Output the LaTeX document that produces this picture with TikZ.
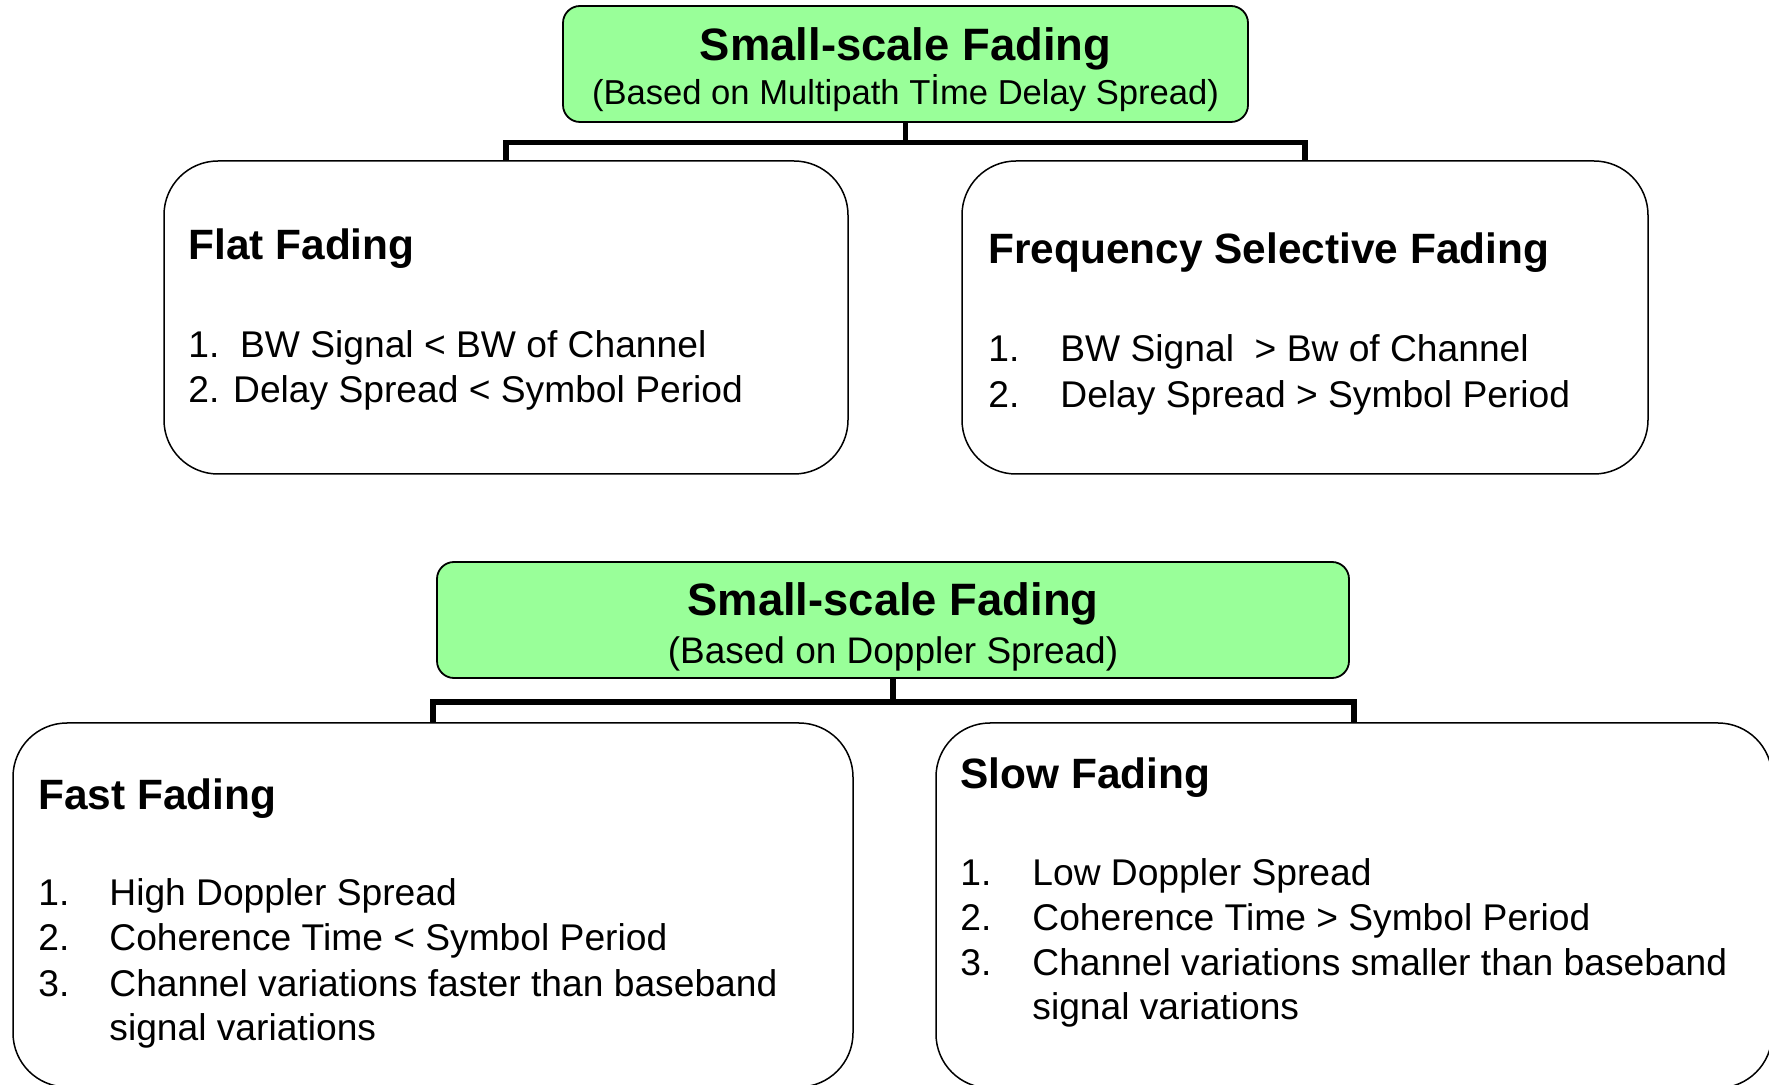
\documentclass[tikz,border=0pt]{standalone}
\usepackage{fontspec}
\setmainfont{Liberation Sans}
\definecolor{titlegreen}{HTML}{99FF99}
\begin{document}
\begin{tikzpicture}[x=0.5pt,y=-0.5pt,
  catbox/.style={draw=black,line width=0.9pt,fill=titlegreen,rounded corners=8.5pt,
    inner sep=0pt,outer sep=0pt},
  classbox/.style={draw=black,line width=0.75pt,fill=white,rounded corners=27pt,
    inner sep=0pt,outer sep=0pt},
  conn/.style={draw=black,line width=2.7pt,line join=miter},
  titletext/.style={anchor=base,inner sep=0pt,font=\fontsize{22.7}{27}\selectfont\bfseries},
  subtext/.style={anchor=base,inner sep=0pt},
  headtext/.style={anchor=base west,inner sep=0pt,font=\fontsize{21.2}{25}\selectfont\bfseries},
  itemtext/.style={anchor=base west,inner sep=0pt,font=\fontsize{18.6}{22.5}\selectfont},
]
\useasboundingbox (0,0) rectangle (1769,1085);

% ---------- Classification by multipath time delay spread ----------
\node[catbox,minimum width=342.5pt,minimum height=58pt] (g1) at (905.5,64) {};
\node[titletext] (g1t) at (905.5,61) {Small-scale Fading};
\node[subtext,font=\fontsize{17.3}{21}\selectfont] (g1s) at (905.5,104.5)
  {(Based on Multipath Tİme Delay Spread)};

\node[classbox,minimum width=342pt,minimum height=156.5pt] (flat) at (506,317.5) {};
\node[classbox,minimum width=343pt,minimum height=156.5pt] (freq) at (1305,317.5) {};

\coordinate (j1) at (905.5,142.5);
\draw[conn] (g1.south) -- (j1);
\draw[conn] (flat.north) |- (j1) -| (freq.north);

\node[headtext] (flath) at (188,259.5) {Flat Fading};
\node[itemtext] (flat1) at (188,357.5) {1.\ \ BW Signal < BW of Channel};
\node[itemtext] (flat2) at (188,402.5) {2. Delay Spread < Symbol Period};

\node[headtext] (freqh) at (988,263.5) {Frequency Selective Fading};
\node[itemtext] (freqn1) at (988,361.5) {1.};
\node[itemtext] (freq1) at (1060,361.5) {BW Signal\ \ > Bw of Channel};
\node[itemtext] (freqn2) at (988,407.5) {2.};
\node[itemtext] (freq2) at (1060,407.5) {Delay Spread > Symbol Period};

% ---------- Classification by Doppler spread ----------
\node[catbox,minimum width=456pt,minimum height=58pt] (g2) at (893,620) {};
\node[titletext] (g2t) at (893,616) {Small-scale Fading};
\node[subtext,font=\fontsize{18.5}{22}\selectfont] (g2s) at (893,664)
  {(Based on Doppler Spread)};

\node[classbox,minimum width=420pt,minimum height=182pt] (fast) at (433,905) {};
\node[classbox,minimum width=418pt,minimum height=182.5pt] (slow) at (1354,905.5) {};

\coordinate (j2) at (893,702);
\draw[conn] (g2.south) -- (j2);
\draw[conn] (fast.north) |- (j2) -| (slow.north);

\node[headtext] (fasth) at (38,809) {Fast Fading};
\node[itemtext] (fastn1) at (38,905.5) {1.};
\node[itemtext] (fast1) at (109,905.5) {High Doppler Spread};
\node[itemtext] (fastn2) at (38,950.5) {2.};
\node[itemtext] (fast2) at (109,950.5) {Coherence Time < Symbol Period};
\node[itemtext] (fastn3) at (38,996) {3.};
\node[itemtext] (fast3) at (109,996) {Channel variations faster than baseband};
\node[itemtext] (fast3b) at (109,1040.5) {signal variations};

\node[headtext] (slowh) at (960,789) {Slow Fading};
\node[itemtext] (slown1) at (960,885) {1.};
\node[itemtext] (slow1) at (1032,885) {Low Doppler Spread};
\node[itemtext] (slown2) at (960,930) {2.};
\node[itemtext] (slow2) at (1032,930) {Coherence Time > Symbol Period};
\node[itemtext] (slown3) at (960,975) {3.};
\node[itemtext] (slow3) at (1032,975) {Channel variations smaller than baseband};
\node[itemtext] (slow3b) at (1032,1019.5) {signal variations};
\end{tikzpicture}
\end{document}
